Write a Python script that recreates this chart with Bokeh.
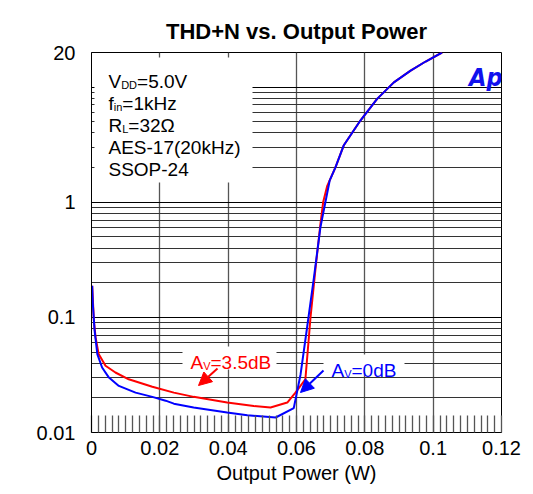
import math
import numpy as np
from bokeh.plotting import figure
from bokeh.models import (Range1d, FixedTicker, LogTicker, Label, Arrow, NormalHead,
                          BasicTickFormatter)
from bokeh.embed import file_html
from bokeh.resources import INLINE

# ---------------- data ----------------
red_x = [0.0002, 0.0007, 0.0012, 0.0021, 0.0041, 0.0070, 0.0109, 0.0178, 0.0241, 0.0299,
         0.0397, 0.0475, 0.0524, 0.0573, 0.0597, 0.0626, 0.0641, 0.0656, 0.0670, 0.0678,
         0.0690, 0.0714, 0.0738, 0.0787, 0.0836, 0.0885, 0.0934, 0.0978, 0.1026]
red_y = [0.188, 0.0935, 0.067, 0.048, 0.038, 0.0332, 0.029, 0.025, 0.0222, 0.0204,
         0.0182, 0.017, 0.0165, 0.0182, 0.0222, 0.029, 0.0998, 0.272, 0.647, 1.0,
         1.39, 2.01, 3.11, 5.13, 7.91, 11.0, 13.9, 16.7, 20.0]

blue_x = [0.0002, 0.0004, 0.0009, 0.0017, 0.0031, 0.0051, 0.0080, 0.0129, 0.0178, 0.0217,
          0.0241, 0.0299, 0.0397, 0.0456, 0.0539, 0.0592, 0.0612, 0.0631, 0.0651, 0.0670,
          0.0697, 0.0714, 0.0738, 0.0787, 0.0836, 0.0885, 0.0934, 0.0978, 0.1026]
blue_y = [0.188, 0.13, 0.077, 0.048, 0.0367, 0.030, 0.0254, 0.0222, 0.0204, 0.0189,
          0.0178, 0.0165, 0.0149, 0.0141, 0.0135, 0.0163, 0.0321, 0.0817, 0.222, 0.605,
          1.54, 2.01, 3.11, 5.13, 7.91, 11.0, 13.9, 16.7, 20.0]

x_ticks = [0.0, 0.02, 0.04, 0.06, 0.08, 0.10, 0.12]
x_tick_labels = ["0", "0.02", "0.04", "0.06", "0.08", "0.1", "0.12"]
y_ticks = [0.01, 0.1, 1.0, 20.0]
y_tick_labels = ["0.01", "0.1", "1", "20"]

title_text = "THD+N vs. Output Power"
x_label = "Output Power (W)"
y_label = "THD+N (%)"
info_lines = [
    [("V", 0), ("DD", 1), ("=5.0V", 0)],
    [("f", 0), ("in", 1), ("=1kHz", 0)],
    [("R", 0), ("L", 1), ("=32\u03a9", 0)],
    [("AES-17(20kHz)", 0)],
    [("SSOP-24", 0)],
]
red_label = [("A", 0), ("V", 1), ("=3.5dB", 0)]
blue_label = [("A", 0), ("V", 1), ("=0dB", 0)]

FONT = "Liberation Sans"
RED = "#ff0000"
BLUE = "#0000ff"

# ---------------- geometry helpers (page px -> data) ----------------
FL, FR, FT, FB = 91, 501, 52, 432
XMIN, XMAX, YMIN, YMAX = 0.0, 0.12, 0.01, 20.0


def dx(px):
    return XMIN + (px - FL) / (FR - FL) * (XMAX - XMIN)


def dy(py):
    lt, lb = math.log10(YMAX), math.log10(YMIN)
    return 10 ** (lt - (py - FT) / (FB - FT) * (lt - lb))


WID = {'V': 667, 'D': 722, '=': 584, '5': 556, '.': 278, '0': 556, 'f': 278, 'i': 222,
       'n': 556, '1': 556, 'k': 500, 'H': 722, 'z': 500, 'R': 722, 'L': 556, '3': 556,
       '2': 556, '\u03a9': 768, 'A': 667, 'E': 667, 'S': 667, '-': 333, '7': 556,
       '(': 333, ')': 333, 'O': 778, 'P': 667, '4': 556, 'd': 556, 'B': 667}


def tw(s, size):
    return sum(WID.get(c, 556) for c in s) / 1000.0 * size


W, H = 525, 486
p = figure(width=W, height=H, y_axis_type="log",
           x_range=Range1d(XMIN, XMAX), y_range=Range1d(YMIN, YMAX),
           output_backend="svg", toolbar_location=None,
           min_border_left=FL, min_border_right=W - FR, min_border_top=FT,
           min_border_bottom=H - FB)

p.title.text = title_text
p.title.text_font = FONT
p.title.text_font_size = "22px"
p.title.text_font_style = "bold"
p.title.text_color = "black"
p.title.align = "center"
p.title.standoff = 18

p.background_fill_color = "white"
p.border_fill_color = "white"
p.outline_line_color = "black"
p.outline_line_width = 1
p.outline_line_alpha = 1.0

# x axis
xa = p.xaxis[0]
xa.ticker = FixedTicker(ticks=x_ticks, minor_ticks=[round(i * 0.002, 4) for i in range(61)])
xa.formatter = BasicTickFormatter()
xa.major_label_overrides = dict(zip(x_ticks, x_tick_labels))
xa.major_tick_in = 0
xa.major_tick_out = 0
xa.minor_tick_in = 17
xa.minor_tick_out = 0
xa.minor_tick_line_color = "#555555"
xa.minor_tick_line_width = 1.3
xa.axis_line_color = "black"
xa.major_label_text_font = FONT
xa.major_label_text_font_size = "20px"
xa.major_label_text_color = "black"
xa.major_label_standoff = 8
xa.axis_label = x_label
xa.axis_label_text_font = FONT
xa.axis_label_text_font_size = "20px"
xa.axis_label_text_font_style = "normal"
xa.axis_label_text_color = "black"
xa.axis_label_standoff = 4

# y axis
ya = p.yaxis[0]
ya.ticker = FixedTicker(ticks=y_ticks, minor_ticks=[])
ya.formatter = BasicTickFormatter()
ya.major_label_overrides = dict(zip(y_ticks, y_tick_labels))
ya.major_tick_in = 0
ya.major_tick_out = 0
ya.minor_tick_in = 0
ya.minor_tick_out = 0
ya.axis_line_color = "black"
ya.major_label_text_font = FONT
ya.major_label_text_font_size = "20px"
ya.major_label_text_color = "black"
ya.major_label_standoff = 16

# grids
p.xgrid.ticker = FixedTicker(ticks=x_ticks)
p.xgrid.grid_line_color = "#555555"
p.xgrid.grid_line_width = 1.3
p.ygrid.ticker = LogTicker(num_minor_ticks=10)
p.ygrid.grid_line_color = "black"
p.ygrid.grid_line_width = 1.2
p.ygrid.minor_grid_line_color = "#333333"
p.ygrid.minor_grid_line_width = 1.1

# white panels over the grid
p.quad(left=[dx(94)], right=[dx(252)], top=[dy(57)], bottom=[dy(182)],
       fill_color="white", line_color=None)
p.quad(left=[dx(182)], right=[dx(276)], top=[dy(346)], bottom=[dy(369)],
       fill_color="white", line_color=None)
p.quad(left=[dx(323)], right=[dx(404)], top=[dy(354)], bottom=[dy(372)],
       fill_color="white", line_color=None)

# curves
p.line(red_x, red_y, line_color=RED, line_width=2)
p.line(blue_x, blue_y, line_color=BLUE, line_width=2)


def rich(x_px, base_px, parts, color, size=19, sub=11, drop=3):
    off = 0.0
    for txt, is_sub in parts:
        fs = sub if is_sub else size
        p.add_layout(Label(x=dx(x_px), y=dy(base_px), x_offset=off,
                           y_offset=-drop if is_sub else 0, text=txt,
                           text_font=FONT, text_font_size=f"{fs}px", text_color=color,
                           text_baseline="alphabetic", text_align="left"))
        off += tw(txt, fs)


base = 81
for line in info_lines:
    rich(108, base, line, "black")
    base += 22

rich(190, 362, red_label, RED)
rich(331, 370, blue_label, BLUE)

p.add_layout(Arrow(end=NormalHead(size=13, fill_color=RED, line_color=RED),
                   x_start=dx(217), y_start=dy(368), x_end=dx(198), y_end=dy(385),
                   line_color=RED, line_width=2))
p.add_layout(Arrow(end=NormalHead(size=13, fill_color=BLUE, line_color=BLUE),
                   x_start=dx(323), y_start=dy(370), x_end=dx(300), y_end=dy(392),
                   line_color=BLUE, line_width=2))

# y axis label
p.add_layout(Label(x=dx(35), y=dy(260), text=y_label, angle=math.pi / 2,
                   text_font=FONT, text_font_size="20px", text_color="black",
                   text_align="center", text_baseline="alphabetic"))

# Ap logo
p.add_layout(Label(x=dx(502), y=dy(77), text="Ap",
                   text_font="'DejaVu Sans Condensed', 'Liberation Sans'",
                   text_font_size="25px", text_font_style="bold italic", text_color="#1010ee",
                   text_align="right", text_baseline="alphabetic"))

open("out.html", "w").write(file_html(p, INLINE))
